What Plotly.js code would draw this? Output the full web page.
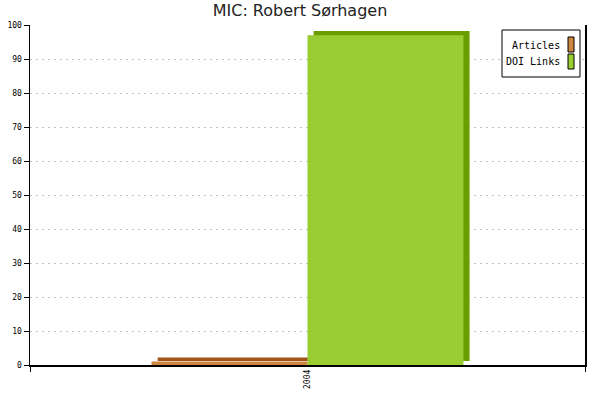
<!DOCTYPE html>
<html>
<head>
<meta charset="utf-8">
<script src="https://cdn.plot.ly/plotly-3.0.1.min.js"></script>
<style>
  html, body { margin: 0; padding: 0; background: #ffffff; }
  #chart { width: 600px; height: 400px; }
</style>
</head>
<body>
<div id="chart"></div>
<script>
// values
const years = ['2004'];
const articles = [1];
const doiLinks = [97];

const seriesNames = ['Articles', 'DOI Links'];
const frontColors = ['#cd853f', '#9acd32'];
const shadeColors = ['#a0561a', '#6a9e00'];

// single category spans [-0.5, 0.5]; each bar takes ~0.28 of it
const barWidth = 0.281;
const depthX = 0.011;   // ~6px to the right
const depthY = 1.2;     // ~4px up

const series = [articles, doiLinks];
const traces = [];

// darker copies behind the bars give the 3d top / side
series.forEach((vals, i) => {
    traces.push({
        type: 'bar',
        x: years,
        y: vals,
        base: depthY,
        width: barWidth,
        offset: (i - 1) * barWidth + depthX,
        marker: { color: shadeColors[i], line: { width: 0 } },
        showlegend: false,
        hoverinfo: 'skip'
    });
});

series.forEach((vals, i) => {
    traces.push({
        type: 'bar',
        name: seriesNames[i],
        x: years,
        y: vals,
        width: barWidth,
        offset: (i - 1) * barWidth,
        marker: { color: frontColors[i], line: { width: 0 } },
        showlegend: false
    });
});

// legend drawn by hand so the swatch sits right of the text, like the original
// plot area is 30..585 px across, 25..365 px down
const px = x => (x - 30) / 555;
const py = y => (365 - y) / 340;

const shapes = [{
    type: 'rect', xref: 'paper', yref: 'paper',
    x0: px(502), x1: px(580), y0: py(30), y1: py(77),
    line: { color: '#000000', width: 1 }, fillcolor: '#ffffff'
}];
const annotations = [];
seriesNames.forEach((name, i) => {
    const top = 37 + i * 17;
    shapes.push({
        type: 'rect', xref: 'paper', yref: 'paper',
        x0: px(568), x1: px(574), y0: py(top), y1: py(top + 15),
        line: { color: '#000000', width: 1 }, fillcolor: frontColors[i]
    });
    annotations.push({
        xref: 'paper', yref: 'paper',
        x: px(562), y: py(top + 8),
        xanchor: 'right', yanchor: 'middle',
        text: name, showarrow: false,
        font: { family: 'DejaVu Sans Mono', size: 10, color: '#000000' }
    });
});

const layout = {
    width: 600,
    height: 400,
    paper_bgcolor: '#ffffff',
    plot_bgcolor: '#ffffff',
    margin: { l: 30, r: 15, t: 25, b: 35 },
    barmode: 'overlay',
    title: {
        text: 'MIC: Robert Sørhagen',
        font: { family: 'DejaVu Sans', size: 16, color: '#222222' },
        x: 0.5,
        xanchor: 'center',
        y: 0.975,
        yanchor: 'middle'
    },
    font: { family: 'DejaVu Sans Mono', size: 8, color: '#000000' },
    xaxis: {
        type: 'category',
        range: [-0.5, 0.5],
        showline: true,
        linecolor: '#000000',
        linewidth: 1.5,
        ticks: 'outside',
        tickson: 'boundaries',
        ticklen: 5,
        tickcolor: '#000000',
        tickangle: -90,
        showgrid: false,
        zeroline: false,
        tickfont: { family: 'DejaVu Sans Mono', size: 8, color: '#000000' }
    },
    yaxis: {
        range: [0, 100],
        dtick: 10,
        showline: true,
        linecolor: '#000000',
        linewidth: 1.5,
        mirror: true,
        ticks: 'outside',
        ticklen: 5,
        tickcolor: '#000000',
        showgrid: true,
        gridcolor: '#c0c0c0',
        griddash: '2px,4px',
        gridwidth: 1,
        zeroline: false,
        tickfont: { family: 'DejaVu Sans Mono', size: 8, color: '#000000' }
    },
    showlegend: false,
    shapes: shapes,
    annotations: annotations
};

Plotly.newPlot('chart', traces, layout, { displayModeBar: false, staticPlot: true });
</script>
</body>
</html>
